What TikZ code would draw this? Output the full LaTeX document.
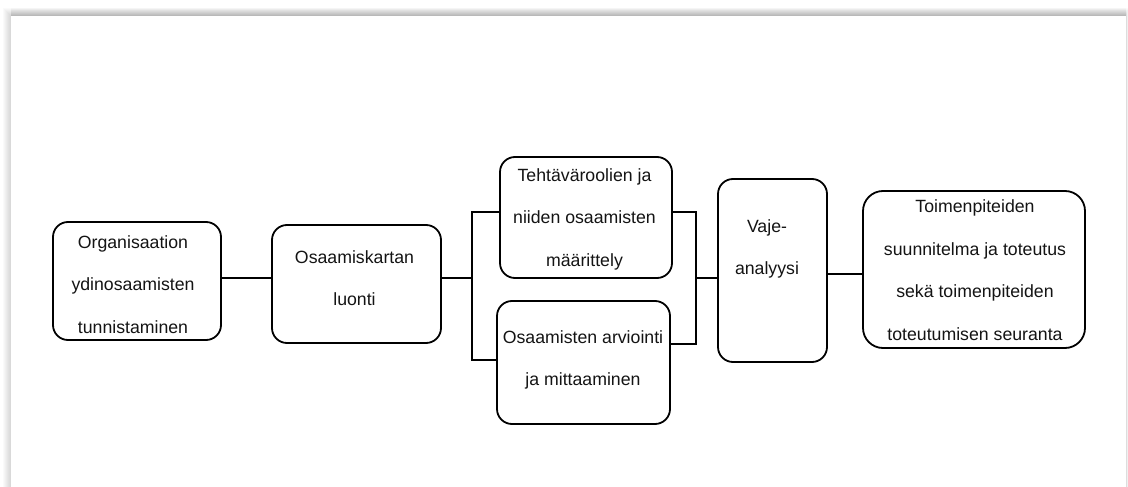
\documentclass[tikz,border=0pt]{standalone}
\usepackage{fontspec}
\setmainfont{Liberation Sans}
\begin{document}
\begin{tikzpicture}[x=1pt,y=-1pt,
  stepbox/.style={draw=black, line width=1.8pt, rounded corners=15pt, fill=white,
    inner sep=0pt, outer sep=0pt},
  label/.style={align=center, inner sep=0pt, text=black!92,
    font=\fontsize{17.7}{42.5}\selectfont},
  link/.style={draw=black, line width=1.6pt}]
\useasboundingbox (0,0) rectangle (1128,487);

% page with its soft shadow
\foreach \k in {1,...,8}{
  \fill[black, opacity=0.018] (11-\k,16-\k) rectangle (1126+0.25*\k,500);
  \fill[black, opacity=0.018] (11,16-\k) rectangle (1126,16);
}
\fill[white] (11,16) rectangle (1126,500);

% boxes
\node[stepbox, minimum width=168pt, minimum height=118pt] (b1) at (137,281) {};
\node[stepbox, minimum width=169pt, minimum height=118pt] (b2) at (356.5,284) {};
\node[stepbox, minimum width=172pt, minimum height=121pt] (b3) at (586,217.5) {};
\node[stepbox, minimum width=173pt, minimum height=123pt] (b4) at (583.5,362.5) {};
\node[stepbox, minimum width=109pt, minimum height=183pt] (b5) at (772.5,270.5) {};
\node[stepbox, rounded corners=20pt, minimum width=222pt, minimum height=157pt] (b6) at (974,269.5) {};

% texts
\node[label] (t1) at (133,284.5) {Organisaation\\ydinosaamisten\\tunnistaminen};
\node[label] (t2) at (354.5,278) {Osaamiskartan\\luonti};
\node[label] (t3) at (584.5,219) {Tehtäväroolien ja\\niiden osaamisten\\määrittely};
\node[label] (t4) at (583,360) {Osaamisten arviointi\\ja mittaaminen};
\node[label] (t5) at (767,249) {Vaje-\\analyysi};
\node[label] (t6) at (975,270) {Toimenpiteiden\\suunnitelma ja toteutus\\sekä toimenpiteiden\\toteutumisen seuranta};

% junction points
\coordinate (sL) at (472,278);
\coordinate (sLt) at (472,212);
\coordinate (sLb) at (472,360);
\coordinate (sR) at (696,278);
\coordinate (sRt) at (696,212);
\coordinate (sRb) at (696,344);
\coordinate (m56) at (845,274);

% connectors
\draw[link] (b1.east |- sL) -- (b2.west |- sL);
\draw[link] (b2.east |- sL) -- (sL);
\draw[link] (b3.west |- sLt) -- (sLt) -- (sLb) -- (b4.west |- sLb);
\draw[link] (b3.east |- sRt) -- (sRt) -- (sRb) -- (b4.east |- sRb);
\draw[link] (sR) -- (b5.west |- sR);
\draw[link] (b5.east |- m56) -- (b6.west |- m56);
\end{tikzpicture}
\end{document}
